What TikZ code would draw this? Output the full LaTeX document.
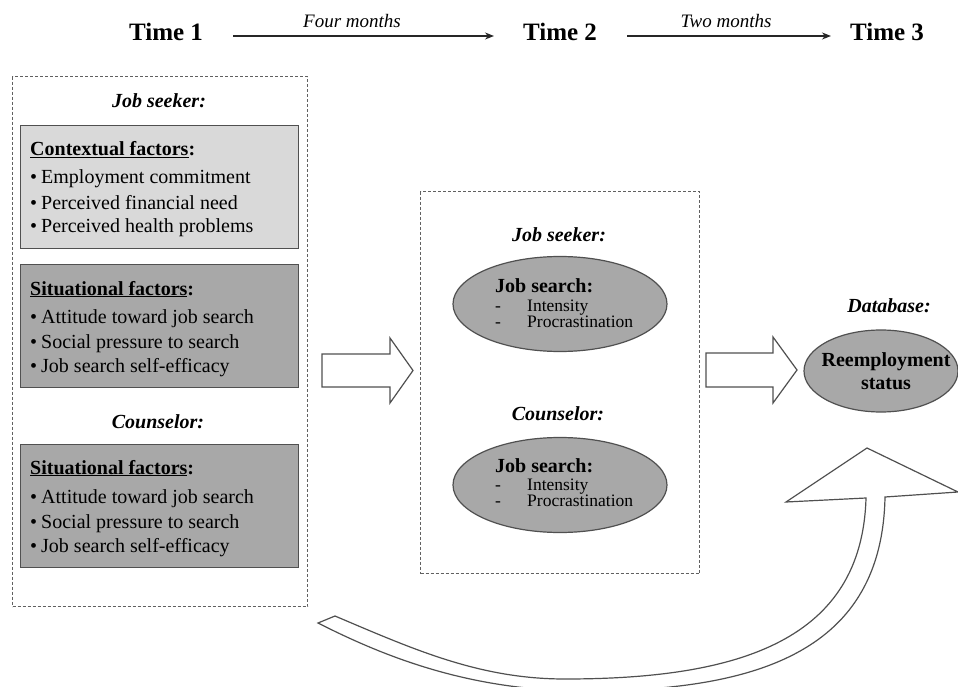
\documentclass[tikz,border=0pt]{standalone}
\usepackage{fontspec}
\setmainfont{Liberation Serif}
\usetikzlibrary{shapes.geometric,arrows.meta}
\definecolor{lightbox}{HTML}{D9D9D9}
\definecolor{darkbox}{HTML}{A8A8A8}
\definecolor{ellfill}{HTML}{A8A8A8}
\definecolor{edgec}{HTML}{505050}
\definecolor{dashc}{HTML}{606060}
\begin{document}
\begin{tikzpicture}[x=1pt,y=-1pt,
  timelbl/.style={font=\bfseries\fontsize{25}{30}\selectfont, inner sep=0pt, anchor=base},
  durlbl/.style={font=\itshape\fontsize{19}{23}\selectfont, inner sep=0pt, anchor=base},
  grplbl/.style={font=\bfseries\itshape\fontsize{20}{24}\selectfont, inner sep=0pt, anchor=base},
  factorbox/.style={draw=edgec, line width=1.3pt, minimum width=278pt, minimum height=123pt, inner sep=0pt, anchor=north west},
  headtxt/.style={font=\bfseries\fontsize{20}{24}\selectfont, inner sep=0pt, anchor=base west},
  itemtxt/.style={font=\fontsize{20}{24}\selectfont, inner sep=0pt, anchor=base west},
  ellhead/.style={font=\bfseries\fontsize{20}{24}\selectfont, inner sep=0pt, anchor=base west},
  ellitem/.style={font=\fontsize{17.5}{20}\selectfont, inner sep=0pt, anchor=base west},
  dashbox/.style={draw=dashc, line width=1.1pt, dash pattern=on 3pt off 2pt, inner sep=0pt, anchor=north west},
  jsell/.style={ellipse, draw=edgec, fill=ellfill, line width=1.2pt, minimum width=214pt, minimum height=95pt, inner sep=0pt},
  blockarrow/.style={draw=edgec, fill=white, line width=1.2pt, line join=miter},
  timearrow/.style={draw=black!85, line width=1.3pt, -{Stealth[length=9pt,width=7pt]}}
]
\useasboundingbox (0,0) rectangle (958,687);
\clip (0,0) rectangle (958,687);

% ---- timeline ----
\node[timelbl] (t1) at (166,41) {Time 1};
\node[timelbl] (t2) at (560,41) {Time 2};
\node[timelbl] (t3) at (887,41) {Time 3};
\node[durlbl] (d1) at (352,28) {Four months};
\node[durlbl] (d2) at (726,28) {Two months};
\coordinate (a1s) at (233,36);
\coordinate (a1e) at (494,36);
\coordinate (a2s) at (627,36);
\coordinate (a2e) at (831,36);
\draw[timearrow] (a1s) -- (a1e);
\draw[timearrow] (a2s) -- (a2e);

% ---- curved arrow (Time 1 -> Time 3) ----
\draw[blockarrow]
  (318,623) -- (335,616)
  .. controls (415,650) and (480,679) .. (565,679)
  .. controls (740,679) and (862,640) .. (866,498)
  -- (786,502) -- (867,448) -- (958,492) -- (885,497)
  .. controls (882,650) and (760,691) .. (585,691)
  .. controls (470,691) and (385,657) .. (318,623) -- cycle;

% ---- left group (Time 1) ----
\node[dashbox, minimum width=295pt, minimum height=530pt] (leftgrp) at (12,76) {};
\node[grplbl] (ljs) at (159,108) {Job seeker:};
\node[factorbox, fill=lightbox] (ctx) at (20,125) {};
\node[headtxt] (ctxh) at (30,156) {\underline{Contextual factors}:};
\node[itemtxt] (ctx1) at (30,184) {•\hspace{4pt}Employment commitment};
\node[itemtxt] (ctx2) at (30,209) {•\hspace{4pt}Perceived financial need};
\node[itemtxt] (ctx3) at (30,233) {•\hspace{4pt}Perceived health problems};

\node[factorbox, fill=darkbox] (sit) at (20,264) {};
\node[headtxt] (sith) at (30,295) {\underline{Situational factors}:};
\node[itemtxt] (sit1) at (30,323) {•\hspace{4pt}Attitude toward job search};
\node[itemtxt] (sit2) at (30,348) {•\hspace{4pt}Social pressure to search};
\node[itemtxt] (sit3) at (30,372) {•\hspace{4pt}Job search self-efficacy};

\node[grplbl] (lco) at (158,428) {Counselor:};
\node[factorbox, fill=darkbox] (cou) at (20,444) {};
\node[headtxt] (couh) at (30,474) {\underline{Situational factors}:};
\node[itemtxt] (cou1) at (30,503) {•\hspace{4pt}Attitude toward job search};
\node[itemtxt] (cou2) at (30,528) {•\hspace{4pt}Social pressure to search};
\node[itemtxt] (cou3) at (30,552) {•\hspace{4pt}Job search self-efficacy};

% ---- middle group (Time 2) ----
\node[dashbox, minimum width=279pt, minimum height=382pt] (midgrp) at (420,191) {};
\node[grplbl] (mjs) at (559,241) {Job seeker:};
\node[jsell] (e1) at (560,304) {};
\node[ellhead] (e1h) at (495,292) {Job search:};
\node[ellitem] (e1d1) at (495,311) {-};
\node[ellitem] (e1i1) at (527,311) {Intensity};
\node[ellitem] (e1d2) at (495,327) {-};
\node[ellitem] (e1i2) at (527,327) {Procrastination};

\node[grplbl] (mco) at (558,420) {Counselor:};
\node[jsell] (e2) at (560,485) {};
\node[ellhead] (e2h) at (495,472) {Job search:};
\node[ellitem] (e2d1) at (495,490) {-};
\node[ellitem] (e2i1) at (527,490) {Intensity};
\node[ellitem] (e2d2) at (495,506) {-};
\node[ellitem] (e2i2) at (527,506) {Procrastination};

% ---- right (Time 3) ----
\node[grplbl] (db) at (889,312) {Database:};
\node[ellipse, draw=edgec, fill=ellfill, line width=1.2pt, minimum width=154pt, minimum height=82pt, inner sep=0pt] (re) at (881,371) {};
\node[font=\bfseries\fontsize{20}{24}\selectfont, inner sep=0pt, anchor=base] (re1) at (886,366) {Reemployment};
\node[font=\bfseries\fontsize{20}{24}\selectfont, inner sep=0pt, anchor=base] (re2) at (886,389) {status};

% ---- block arrows ----
\draw[blockarrow] (322,354) -- (390,354) -- (390,338) -- (413,370.5) -- (390,403) -- (390,387) -- (322,387) -- cycle;
\draw[blockarrow] (706,353) -- (773,353) -- (773,337) -- (797,370) -- (773,403) -- (773,387) -- (706,387) -- cycle;
\end{tikzpicture}
\end{document}
